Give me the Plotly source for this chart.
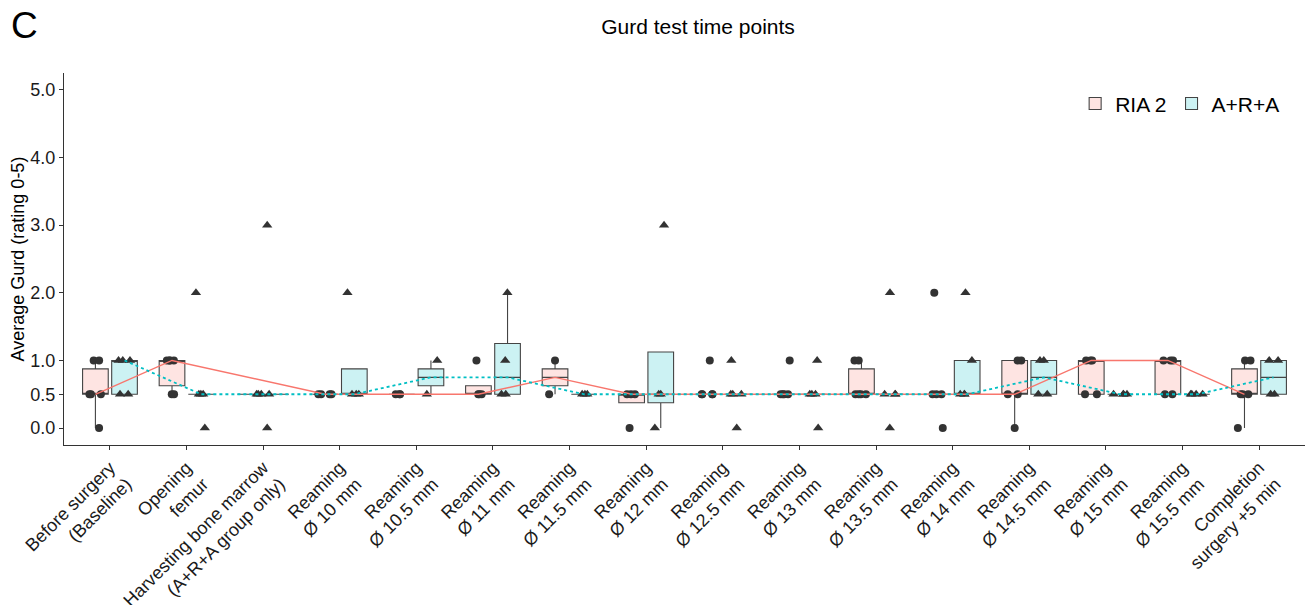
import numpy as np
import plotly.graph_objects as go

# ---------------- data ----------------
categories = [
    "Before surgery<br>(Baseline)", "Opening<br>femur",
    "Harvesting bone marrow<br>(A+R+A group only)",
    "Reaming<br>Ø 10 mm", "Reaming<br>Ø 10.5 mm", "Reaming<br>Ø 11 mm",
    "Reaming<br>Ø 11.5 mm", "Reaming<br>Ø 12 mm", "Reaming<br>Ø 12.5 mm",
    "Reaming<br>Ø 13 mm", "Reaming<br>Ø 13.5 mm", "Reaming<br>Ø 14 mm",
    "Reaming<br>Ø 14.5 mm", "Reaming<br>Ø 15 mm", "Reaming<br>Ø 15.5 mm",
    "Completion<br>surgery +5 min",
]

ria2_values = [
    [0, 0.5, 0.5, 0.5, 1, 1],
    [0.5, 0.5, 1, 1, 1, 1],
    None,
    [0.5, 0.5, 0.5, 0.5],
    [0.5, 0.5, 0.5],
    [0.5, 0.5, 0.5, 1],
    [0.5, 1],
    [0, 0.5, 0.5, 0.5],
    [0.5, 0.5, 0.5, 0.5, 1],
    [0.5, 0.5, 0.5, 0.5, 1],
    [0.5, 0.5, 0.5, 0.5, 1, 1],
    [0, 0.5, 0.5, 0.5, 2],
    [0, 0.5, 0.5, 1, 1],
    [0.5, 0.5, 1, 1, 1],
    [0.5, 0.5, 1, 1, 1],
    [0, 0.5, 0.5, 0.5, 1, 1],
]

ara_values = [
    [0.5, 0.5, 1, 1, 1],
    [0, 0.5, 0.5, 0.5, 2],
    [0, 0.5, 0.5, 0.5, 0.5, 3],
    [0.5, 0.5, 0.5, 2],
    [0.5, 1],
    [0.5, 0.5, 1, 2],
    [0.5, 0.5, 0.5],
    [0, 0.5, 0.5, 3],
    [0, 0.5, 0.5, 0.5, 1],
    [0, 0.5, 0.5, 0.5, 1],
    [0, 0.5, 0.5, 0.5, 2],
    [0.5, 0.5, 0.5, 1, 2],
    [0.5, 0.5, 1, 1],
    [0.5, 0.5, 0.5, 0.5],
    [0.5, 0.5, 0.5, 0.5],
    [0.5, 0.5, 1, 1],
]

y_tickvals = [0, 0.5, 1, 2, 3, 4, 5]
y_ticktext = ["0.0", "0.5", "1.0", "2.0", "3.0", "4.0", "5.0"]

# ---------------- style ----------------
DODGE = 0.19
BOXW = 0.335
RED = "#F8766D"
CYAN = "#00BFC4"
DARK = "#333333"
FONT = "Liberation Sans, Arial, sans-serif"


def stats(vals):
    v = np.sort(np.asarray(vals, dtype=float))
    q1, med, q3 = np.percentile(v, [25, 50, 75])
    iqr = q3 - q1
    lo = v[v >= q1 - 1.5 * iqr].min()
    hi = v[v <= q3 + 1.5 * iqr].max()
    return q1, med, q3, min(lo, q1), max(hi, q3)


def build(values_list, offset, other_list):
    xs, ys, q1s, meds, q3s, lfs, ufs, widths = [], [], [], [], [], [], [], []
    for i, vals in enumerate(values_list):
        if vals is None:
            continue
        alone = other_list[i] is None
        pos = (i + 1) + (0 if alone else offset)
        q1, med, q3, lf, uf = stats(vals)
        xs.append(pos); ys.append(list(vals))
        q1s.append(q1); meds.append(med); q3s.append(q3)
        lfs.append(lf); ufs.append(uf)
        widths.append(2 * BOXW if alone else BOXW)
    return dict(x=xs, y=ys, q1=q1s, median=meds, q3=q3s,
                lowerfence=lfs, upperfence=ufs, widths=widths)


fig = go.Figure()

groups = [
    ("RIA 2", ria2_values, ara_values, -DODGE, RED, "rgba(248,118,109,0.2)", "circle", 8, "solid", 1.4),
    ("A+R+A", ara_values, ria2_values, DODGE, CYAN, "rgba(0,191,196,0.2)", "triangle-up", 9, "dot", 1.8),
]

for name, vals, other, off, col, fill, sym, msize, dash, lw in groups:
    b = build(vals, off, other)
    for w in sorted(set(b["widths"])):
        idx = [k for k, ww in enumerate(b["widths"]) if ww == w]
        fig.add_trace(go.Box(
            x=[b["x"][k] for k in idx],
            y=[b["y"][k] for k in idx],
            q1=[b["q1"][k] for k in idx],
            median=[b["median"][k] for k in idx],
            q3=[b["q3"][k] for k in idx],
            lowerfence=[b["lowerfence"][k] for k in idx],
            upperfence=[b["upperfence"][k] for k in idx],
            width=w,
            name=name, legendgroup=name, showlegend=(w == BOXW),
            fillcolor=fill,
            line=dict(color="#444444", width=1.1),
            whiskerwidth=0,
            boxpoints="all", jitter=0.55 if w == BOXW else 0.3, pointpos=0,
            marker=dict(color=DARK, symbol=sym, size=msize),
            hoverinfo="skip",
        ))
    fig.add_trace(go.Scatter(
        x=b["x"], y=b["median"], mode="lines",
        line=dict(color=col, width=lw, dash=dash),
        showlegend=False, hoverinfo="skip",
    ))

# page body has an 8px margin, so the figure is sized to fit inside it
fig.update_layout(
    width=1297, height=597,
    margin=dict(l=56, r=0, t=65, b=160),
    paper_bgcolor="white", plot_bgcolor="white",
    font=dict(family=FONT, color="#000000"),
    showlegend=True,
    legend=dict(orientation="h", x=0.984, xanchor="right", y=0.917, yanchor="middle",
                font=dict(size=21, color="#000000"), itemwidth=30,
                bgcolor="rgba(0,0,0,0)", traceorder="normal"),
    title=dict(text="Gurd test time points", x=0.532, xref="container",
               y=0.968, yref="container", xanchor="center", yanchor="middle",
               font=dict(size=21, color="#000000")),
    xaxis=dict(range=[0.4, 16.6], tickmode="array",
               tickvals=list(range(1, len(categories) + 1)), ticktext=categories,
               tickangle=-45, showline=True, linecolor=DARK, linewidth=1.2,
               ticks="outside", ticklen=4, tickcolor=DARK, tickwidth=1.1,
               showgrid=False, zeroline=False, tickfont=dict(size=18, color="#1a1a1a"),
               automargin=False),
    yaxis=dict(range=[-0.25, 5.25], tickmode="array", tickvals=y_tickvals,
               ticktext=y_ticktext, showline=True, linecolor=DARK, linewidth=1.2,
               ticks="outside", ticklen=4, tickcolor=DARK, tickwidth=1.1,
               showgrid=False, zeroline=False, tickfont=dict(size=18, color="#1a1a1a"),
               title=dict(text="Average Gurd (rating 0-5)", font=dict(size=18, color="#000000"),
                          standoff=3),
               automargin=False),
    annotations=[dict(text="C", xref="paper", yref="paper", x=-0.044, y=1.128,
                      xanchor="left", yanchor="middle", showarrow=False,
                      font=dict(size=37, color="#000000"))],
)

fig.write_html("out.html")
